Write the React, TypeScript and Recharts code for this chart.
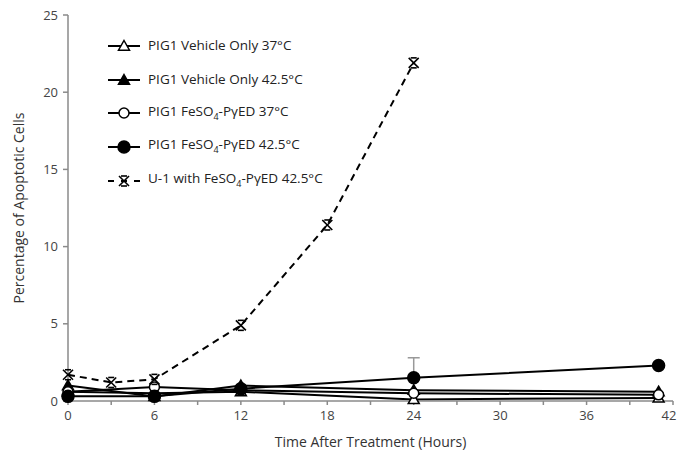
import { ErrorBar, Line, LineChart, XAxis, YAxis } from "recharts";

const pigHours = [0, 6, 12, 24, 41];
const vehicle37 = [0.6, 0.5, 0.6, 0.1, 0.2];
const vehicle425 = [1.0, 0.3, 1.0, 0.7, 0.6];
const feso37 = [0.6, 0.9, 0.7, 0.5, 0.4];
const feso425 = [0.3, 0.3, 0.8, 1.5, 2.3];
const feso425Err = [0, 0, 0, 1.3, 0];

const u1Hours = [0, 3, 6, 12, 18, 24];
const u1 = [1.7, 1.2, 1.4, 4.9, 11.4, 21.9];

const xTicks = [0, 3, 6, 9, 12, 15, 18, 21, 24, 27, 30, 33, 36, 39, 42];
const yTicks = [0, 5, 10, 15, 20, 25];

const FONT = "'Open Sans', 'Liberation Sans', sans-serif";
const AXIS = "#8a8a8a";

type MarkerKind = "triOpen" | "triFilled" | "circOpen" | "circFilled" | "star";

const pigRows = (vals: number[], errs?: number[]) =>
  pigHours.map((h, i) => ({ h, v: vals[i], err: [0, errs ? errs[i] : 0] }));

const u1Rows = u1Hours.map((h, i) => ({ h, v: u1[i] }));

function Marker({ kind, cx, cy }: { kind: MarkerKind; cx: number; cy: number }) {
  if (kind === "triOpen" || kind === "triFilled") {
    const s = 5.5;
    return (
      <polygon
        points={`${cx},${cy - s} ${cx + s},${cy + s * 0.75} ${cx - s},${cy + s * 0.75}`}
        fill={kind === "triFilled" ? "#000" : "#fff"}
        stroke="#000"
        strokeWidth={1.5}
      />
    );
  }
  if (kind === "circOpen" || kind === "circFilled") {
    return (
      <circle
        cx={cx}
        cy={cy}
        r={kind === "circFilled" ? 6 : 5}
        fill={kind === "circFilled" ? "#000" : "#fff"}
        stroke="#000"
        strokeWidth={1.5}
      />
    );
  }
  const s = 5;
  return (
    <g stroke="#000" strokeWidth={1.6}>
      <line x1={cx - s} y1={cy - s} x2={cx + s} y2={cy + s} />
      <line x1={cx - s} y1={cy + s} x2={cx + s} y2={cy - s} />
      <line x1={cx - 3} y1={cy - s} x2={cx + 3} y2={cy - s} />
      <line x1={cx - 3} y1={cy + s} x2={cx + 3} y2={cy + s} />
    </g>
  );
}

const dotFor = (kind: MarkerKind) => (props: any) => (
  <Marker key={`${kind}-${props.index}`} kind={kind} cx={props.cx} cy={props.cy} />
);

const sub4 = <sub style={{ fontSize: 9 }}>4</sub>;

const legendItems: { label: React.ReactNode; kind: MarkerKind; dashed?: boolean }[] = [
  { label: "PIG1 Vehicle Only 37°C", kind: "triOpen" },
  { label: "PIG1 Vehicle Only 42.5°C", kind: "triFilled" },
  { label: <>PIG1 FeSO{sub4}-PγED 37°C</>, kind: "circOpen" },
  { label: <>PIG1 FeSO{sub4}-PγED 42.5°C</>, kind: "circFilled" },
  { label: <>U-1 with FeSO{sub4}-PγED 42.5°C</>, kind: "star", dashed: true },
];

function LegendBox() {
  return (
    <div
      style={{
        position: "absolute",
        left: 106,
        top: 29,
        fontFamily: FONT,
        fontSize: 13.5,
        color: "#222",
      }}
    >
      {legendItems.map((it, i) => (
        <div
          key={i}
          style={{ display: "flex", alignItems: "center", height: 33.8, lineHeight: "15px" }}
        >
          <svg width={38} height={16} style={{ marginRight: 4 }}>
            <line
              x1={2}
              y1={8}
              x2={34}
              y2={8}
              stroke="#000"
              strokeWidth={2}
              strokeDasharray={it.dashed ? "6 7" : undefined}
            />
            <Marker kind={it.kind} cx={18} cy={8} />
          </svg>
          <span style={{ whiteSpace: "nowrap" }}>{it.label}</span>
        </div>
      ))}
    </div>
  );
}

function XTick(props: any) {
  const { x, y, payload } = props;
  const v = payload.value as number;
  if (v % 6 !== 0) return <g />;
  const shift = v === 42 ? -4 : 0;
  return (
    <text
      x={x + shift}
      y={y + 4}
      dy="0.71em"
      textAnchor="middle"
      fontSize={13}
      fill="#444"
      fontFamily={FONT}
    >
      {v}
    </text>
  );
}

export default function App() {
  return (
    <div style={{ position: "absolute", left: 0, top: 0, background: "#fff" }}>
      <LineChart
        width={678}
        height={459}
        margin={{ top: 15, right: 5, bottom: 28, left: 28 }}
      >
        <XAxis
          dataKey="h"
          type="number"
          domain={[0, 42]}
          ticks={xTicks}
          interval={0}
          allowDuplicatedCategory={false}
          stroke={AXIS}
          strokeWidth={1.5}
          tickSize={4}
          tick={<XTick />}
          height={30}
          label={{
            value: "Time After Treatment (Hours)",
            position: "insideBottom",
            offset: -16,
            fontSize: 14,
            fill: "#333",
            fontFamily: FONT,
          }}
        />
        <YAxis
          type="number"
          domain={[0, 25]}
          ticks={yTicks}
          stroke={AXIS}
          strokeWidth={1.5}
          tickSize={5}
          width={40}
          tick={{ fontSize: 13, fill: "#444", fontFamily: FONT, dx: -3 }}
          label={{
            value: "Percentage of Apoptotic Cells",
            angle: -90,
            position: "insideLeft",
            offset: -9,
            fontSize: 14,
            fill: "#333",
            fontFamily: FONT,
            style: { textAnchor: "middle" },
          }}
        />
        <Line
          data={pigRows(vehicle37)}
          dataKey="v"
          stroke="#000"
          strokeWidth={2}
          dot={dotFor("triOpen")}
          isAnimationActive={false}
          name="PIG1 Vehicle Only 37°C"
        />
        <Line
          data={pigRows(vehicle425)}
          dataKey="v"
          stroke="#000"
          strokeWidth={2}
          dot={dotFor("triFilled")}
          isAnimationActive={false}
          name="PIG1 Vehicle Only 42.5°C"
        />
        <Line
          data={pigRows(feso37)}
          dataKey="v"
          stroke="#000"
          strokeWidth={2}
          dot={dotFor("circOpen")}
          isAnimationActive={false}
          name="PIG1 FeSO4-PγED 37°C"
        />
        <Line
          data={pigRows(feso425, feso425Err)}
          dataKey="v"
          stroke="#000"
          strokeWidth={2}
          dot={dotFor("circFilled")}
          isAnimationActive={false}
          name="PIG1 FeSO4-PγED 42.5°C"
        >
          <ErrorBar dataKey="err" direction="y" width={6} stroke="#999" strokeWidth={1.5} />
        </Line>
        <Line
          data={u1Rows}
          dataKey="v"
          stroke="#000"
          strokeWidth={2}
          strokeDasharray="7 5"
          dot={dotFor("star")}
          isAnimationActive={false}
          name="U-1 with FeSO4-PγED 42.5°C"
        />
      </LineChart>
      <LegendBox />
    </div>
  );
}
